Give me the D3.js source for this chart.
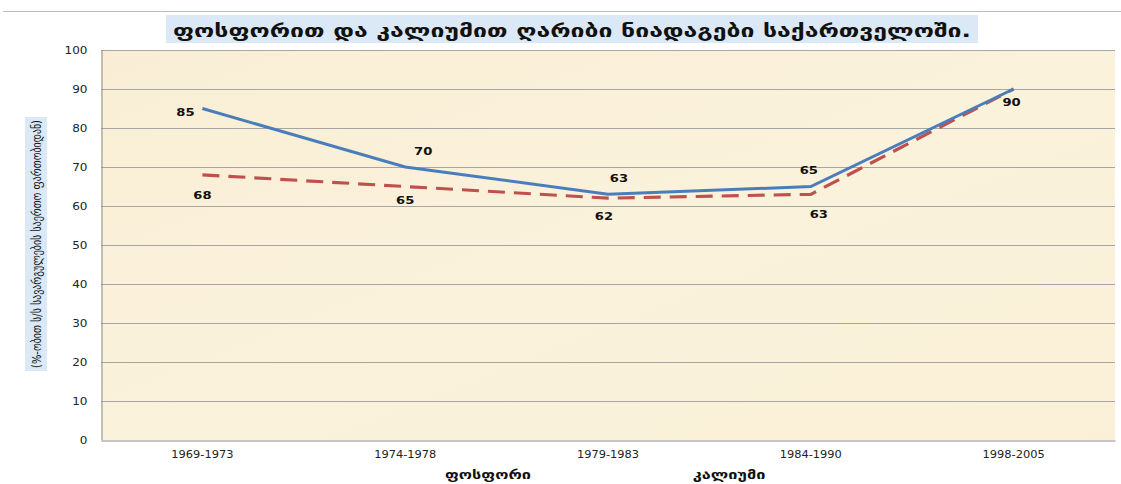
<!DOCTYPE html>
<html><head><meta charset="utf-8">
<script src="https://cdn.jsdelivr.net/npm/d3@7"></script>
<style>body{margin:0;background:#fff}svg{display:block}</style>
</head><body>
<svg id="chart" width="1121" height="484"></svg>
<script>
const categories = ["1969-1973","1974-1978","1979-1983","1984-1990","1998-2005"];
const phosphorus = [85,70,63,65,90];
const potassium = [68,65,62,63,90];
const yTicks = [0,10,20,30,40,50,60,70,80,90,100];
const seriesNames = ["ფოსფორი","კალიუმი"];
const title = "ფოსფორით და კალიუმით ღარიბი ნიადაგები საქართველოში.";
const yTitle = "(%-ობით ს/ს სავარგულების საერთო ფართობიდან)";

const svg = d3.select("#chart");
const W = 1121, H = 484;
const m = {left:101, right:6, top:50, bottom:44};
const x = d3.scaleBand().domain(categories).range([m.left, W - m.right]);
const y = d3.scaleLinear().domain([0,100]).range([H - m.bottom, m.top]);
const font = "'DejaVu Sans', Verdana, sans-serif";

function stretch(sel, k) {
  sel.each(function(){
    const w = this.getComputedTextLength();
    d3.select(this).attr("textLength", w*k).attr("lengthAdjust","spacingAndGlyphs");
  });
}

svg.append("line").attr("x1",3).attr("x2",W).attr("y1",11.5).attr("y2",11.5)
  .attr("stroke","#bdbdbd").attr("stroke-width",1);

const defs = svg.append("defs");
const grad = defs.append("linearGradient").attr("id","bg").attr("x1","0").attr("y1","0").attr("x2","1").attr("y2","1");
grad.append("stop").attr("offset","0%").attr("stop-color","#f9eed5");
grad.append("stop").attr("offset","50%").attr("stop-color","#fbf2dc");
grad.append("stop").attr("offset","100%").attr("stop-color","#faf0d7");
svg.append("rect").attr("x",m.left).attr("y",m.top)
  .attr("width",W - m.right - m.left).attr("height",H - m.bottom - m.top)
  .attr("fill","url(#bg)");

svg.append("g").selectAll("line").data(yTicks.filter(d=>d>0)).join("line")
  .attr("x1",m.left).attr("x2",W - m.right)
  .attr("y1",d=>Math.round(y(d))+0.5).attr("y2",d=>Math.round(y(d))+0.5)
  .attr("stroke","#a6a6a6").attr("stroke-width",1);

const yAxis = svg.append("g").attr("transform",`translate(${m.left+0.5},0)`)
  .call(d3.axisLeft(y).tickValues(yTicks).tickSize(0).tickPadding(14));
yAxis.select(".domain").attr("stroke","#8c8c8c");
yAxis.selectAll("text").attr("font-family",font).attr("font-size",10).attr("fill","#222").call(stretch,1.2);

const xAxis = svg.append("g").attr("transform",`translate(0,${Math.round(y(0))+0.5})`)
  .call(d3.axisBottom(x).tickSize(0).tickPadding(10));
xAxis.select(".domain").attr("stroke","#8c8c8c");
xAxis.selectAll("text").attr("font-family",font).attr("font-size",10).attr("fill","#222").call(stretch,1.14);

const line = d3.line().x((d,i)=>x(categories[i]) + x.bandwidth()/2).y(d=>y(d));
svg.append("path").datum(potassium).attr("d",line).attr("fill","none")
  .attr("stroke","#c0504d").attr("stroke-width",3.2).attr("stroke-dasharray","17,9");
svg.append("path").datum(phosphorus).attr("d",line).attr("fill","none")
  .attr("stroke","#4a7ebb").attr("stroke-width",3);

const pOff = [[-17,7],[18,-12],[11,-12],[-2,-13],[-2,17]];
const kOff = [[0,24],[0,17],[-4,22],[8,24],[0,0]];
const cx = i => x(categories[i]) + x.bandwidth()/2;
svg.append("g").selectAll("text").data(phosphorus).join("text")
  .attr("x",(d,i)=>cx(i)+pOff[i][0]).attr("y",(d,i)=>y(d)+pOff[i][1])
  .attr("text-anchor","middle").attr("font-family",font).attr("font-weight","bold")
  .attr("font-size",10.5).attr("fill","#111").text(d=>d).call(stretch,1.25);
svg.append("g").selectAll("text").data(potassium.slice(0,4)).join("text")
  .attr("x",(d,i)=>cx(i)+kOff[i][0]).attr("y",(d,i)=>y(d)+kOff[i][1])
  .attr("text-anchor","middle").attr("font-family",font).attr("font-weight","bold")
  .attr("font-size",10.5).attr("fill","#111").text(d=>d).call(stretch,1.25);

svg.append("rect").attr("x",166).attr("y",15).attr("width",812).attr("height",28).attr("fill","#dbe8f5");
svg.append("text").attr("x",572).attr("y",37).attr("text-anchor","middle")
  .attr("font-family",font).attr("font-weight","bold").attr("font-size",18).attr("fill","#111")
  .attr("textLength",798).attr("lengthAdjust","spacingAndGlyphs").text(title);

svg.append("rect").attr("x",25).attr("y",117).attr("width",22).attr("height",254).attr("fill","#dbe8f5");
svg.append("text").attr("transform","translate(40.5,244) rotate(-90)").attr("text-anchor","middle")
  .attr("font-family",font).attr("font-size",12.5).attr("fill","#111")
  .attr("textLength",248).attr("lengthAdjust","spacingAndGlyphs").text(yTitle);

const legX = [488, 729];
svg.append("g").selectAll("text").data(seriesNames).join("text")
  .attr("x",(d,i)=>legX[i]).attr("y",479).attr("text-anchor","middle")
  .attr("font-family",font).attr("font-weight","bold").attr("font-size",12.5).attr("fill","#111")
  .text(d=>d).call(stretch,1.3);
</script>
</body></html>
